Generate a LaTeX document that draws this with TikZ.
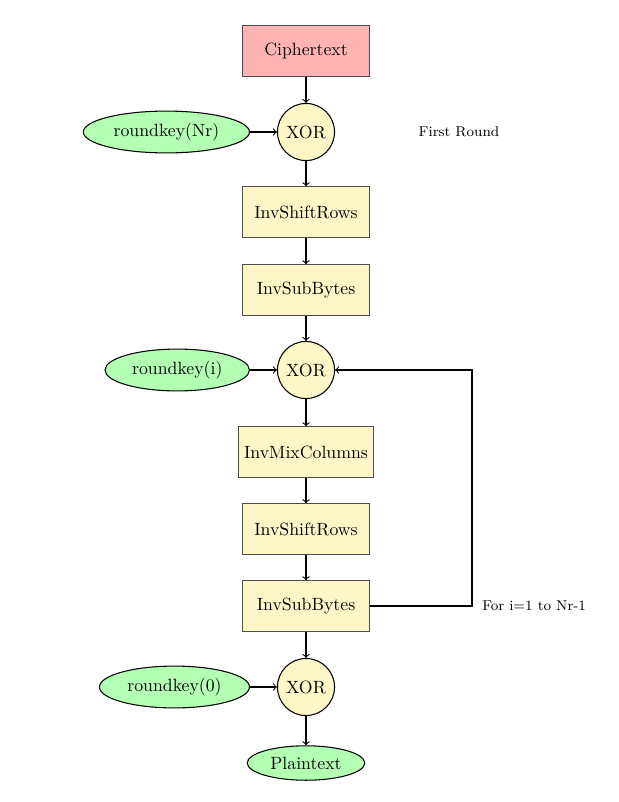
\documentclass[tikz,border=0pt]{standalone}
\usetikzlibrary{shapes.geometric}
\definecolor{cream}{RGB}{255,246,200}
\definecolor{pinkfill}{RGB}{255,179,179}
\definecolor{greenfill}{RGB}{179,255,179}
\begin{document}
\begin{tikzpicture}[x=0.5634pt,y=-0.5634pt,
  stepbox/.style={rectangle,draw=black!70,semithick,fill=cream,minimum width=2.5cm,minimum height=1cm},
  redbox/.style={stepbox,fill=pinkfill},
  xornode/.style={circle,draw,semithick,fill=cream},
  keynode/.style={ellipse,draw,semithick,fill=greenfill},
  lbl/.style={font=\footnotesize},
  conn/.style={semithick,->}]
\useasboundingbox (0,0) rectangle (619,802);
\node[redbox] (ct) at (306,51) {Ciphertext};
\node[xornode] (x1) at (306,132) {XOR};
\node[keynode,anchor=east] (k1) at (250,132) {roundkey(Nr)};
\node[lbl] (fr) at (459,132) {First Round};
\node[stepbox] (sr1) at (306,212) {InvShiftRows};
\node[stepbox] (sb1) at (306,290) {InvSubBytes};
\node[xornode] (x2) at (306,370) {XOR};
\node[keynode,anchor=east] (k2) at (250,370) {roundkey(i)};
\node[stepbox] (mc) at (306,452) {InvMixColumns};
\node[stepbox] (sr2) at (306,529) {InvShiftRows};
\node[stepbox] (sb2) at (306,606) {InvSubBytes};
\node[lbl,anchor=west] (lp) at (476,606) {For i=1 to Nr-1};
\node[xornode] (x3) at (306,687) {XOR};
\node[keynode,anchor=east] (k3) at (250,687) {roundkey(0)};
\node[keynode] (pt) at (306,763) {Plaintext};
\coordinate (c1) at (472,606);
\coordinate (c2) at (472,370);
\draw[conn] (ct) -- (x1);
\draw[conn] (k1) -- (x1);
\draw[conn] (x1) -- (sr1);
\draw[conn] (sr1) -- (sb1);
\draw[conn] (sb1) -- (x2);
\draw[conn] (k2) -- (x2);
\draw[conn] (x2) -- (mc);
\draw[conn] (mc) -- (sr2);
\draw[conn] (sr2) -- (sb2);
\draw[conn] (sb2) -- (x3);
\draw[conn] (k3) -- (x3);
\draw[conn] (x3) -- (pt);
\draw[conn] (sb2.east) -- (c1) -- (c2) -- (x2.east);
\end{tikzpicture}
\end{document}
